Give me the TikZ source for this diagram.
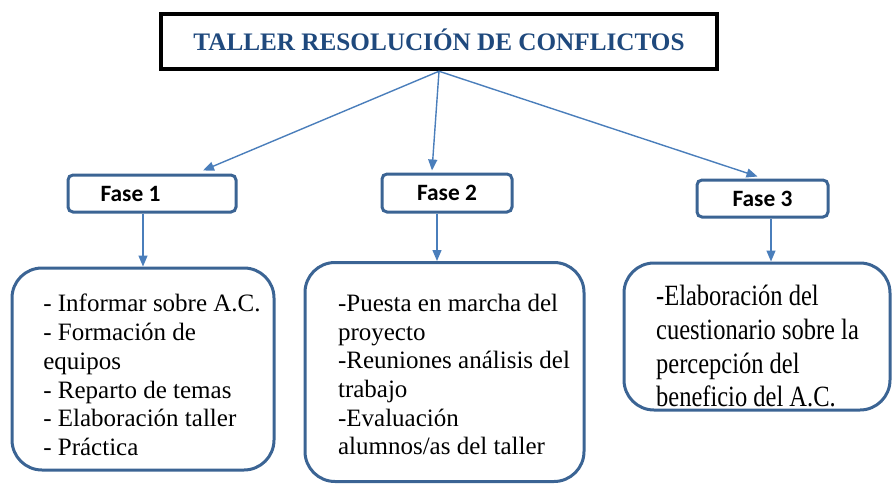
\documentclass[tikz,border=0pt]{standalone}
\usepackage{fontspec}
\setmainfont{Liberation Serif}
\newfontfamily\fasefont{Carlito}
\usepackage{graphicx}
\usepackage{tikz}
\usetikzlibrary{arrows.meta}
\usepackage{xcolor}

\definecolor{borde}{HTML}{3B6494}
\definecolor{flecha}{HTML}{4A7EBB}
\definecolor{titulo}{HTML}{1F497D}

\tikzset{
    fase/.style={draw=borde, line width=3pt, rounded corners=5pt, font=\fasefont\bfseries\fontsize{23.4}{26}\selectfont},
    caja/.style={draw=borde, line width=3pt, rounded corners=30pt, font=\fontsize{25}{28.7}\selectfont},
    flechita/.style={draw=flecha, line width=1.4pt, -{Triangle[length=11pt,width=9pt]}}
}

% texto de las cajas: desplazado #1 a la derecha y #2 hacia abajo
\newcommand{\lineas}[3]{\hspace*{#1}\raisebox{-#2}[\height][\depth]{\begin{tabular}{@{}l@{}}#3\end{tabular}}}

\begin{document}
\begin{tikzpicture}[x=1pt, y=-1pt]
    \useasboundingbox (0, 0) rectangle (892, 483);

    \node[draw=black, line width=4.5pt, minimum width=556pt, minimum height=55pt, text=titulo,
          font=\bfseries\fontsize{25.2}{28}\selectfont] (title) at (439, 41.5) {\raisebox{2pt}[\height][\depth]{TALLER RESOLUCIÓN DE CONFLICTOS}};

    \node[fase, minimum width=168pt, minimum height=37pt] (fase1) at (152, 193.5) {Fase 1\kern43pt};
    \node[fase, minimum width=130pt, minimum height=38pt] (fase2) at (447, 193) {Fase 2};
    \node[fase, minimum width=131pt, minimum height=37pt] (fase3) at (762.5, 198.5) {Fase 3};

    \node[caja, minimum width=262pt, minimum height=202pt] (box1) at (143, 369)
        {\lineas{18pt}{9pt}{- Informar sobre A.C.\\- Formación de\\equipos\\- Reparto de temas\\- Elaboración taller\\- Práctica}};
    \node[caja, minimum width=279pt, minimum height=219pt] (box2) at (444.5, 372)
        {\lineas{19pt}{5.5pt}{-Puesta en marcha del\\proyecto\\-Reuniones análisis del\\trabajo\\-Evaluación\\alumnos/as del taller}};
    \node[caja, minimum width=266pt, minimum height=147pt, font=\fontsize{24.5}{28}\selectfont] (box3) at (757, 336.5)
        {\lineas{1pt}{13pt}{\scalebox{1}[1.2]{\begin{tabular}{@{}l@{}}-Elaboración del\\cuestionario sobre la\\percepción del\\beneficio del A.C.\end{tabular}}}};

    \draw[flechita] (title.south) -- ([xshift=51pt, yshift=3pt]fase1.north);
    \draw[flechita] (title.south) -- ([xshift=-15pt, yshift=2pt]fase2.north);
    \draw[flechita] (title.south) -- ([xshift=-5pt, yshift=2pt]fase3.north);

    \draw[flechita] ([xshift=-9pt]fase1.south) -- (box1.north);
    \draw[flechita] ([xshift=-10pt]fase2.south) -- ([xshift=-7.5pt]box2.north);
    \draw[flechita] ([xshift=8.5pt]fase3.south) -- ([xshift=14pt]box3.north);
\end{tikzpicture}
\end{document}
